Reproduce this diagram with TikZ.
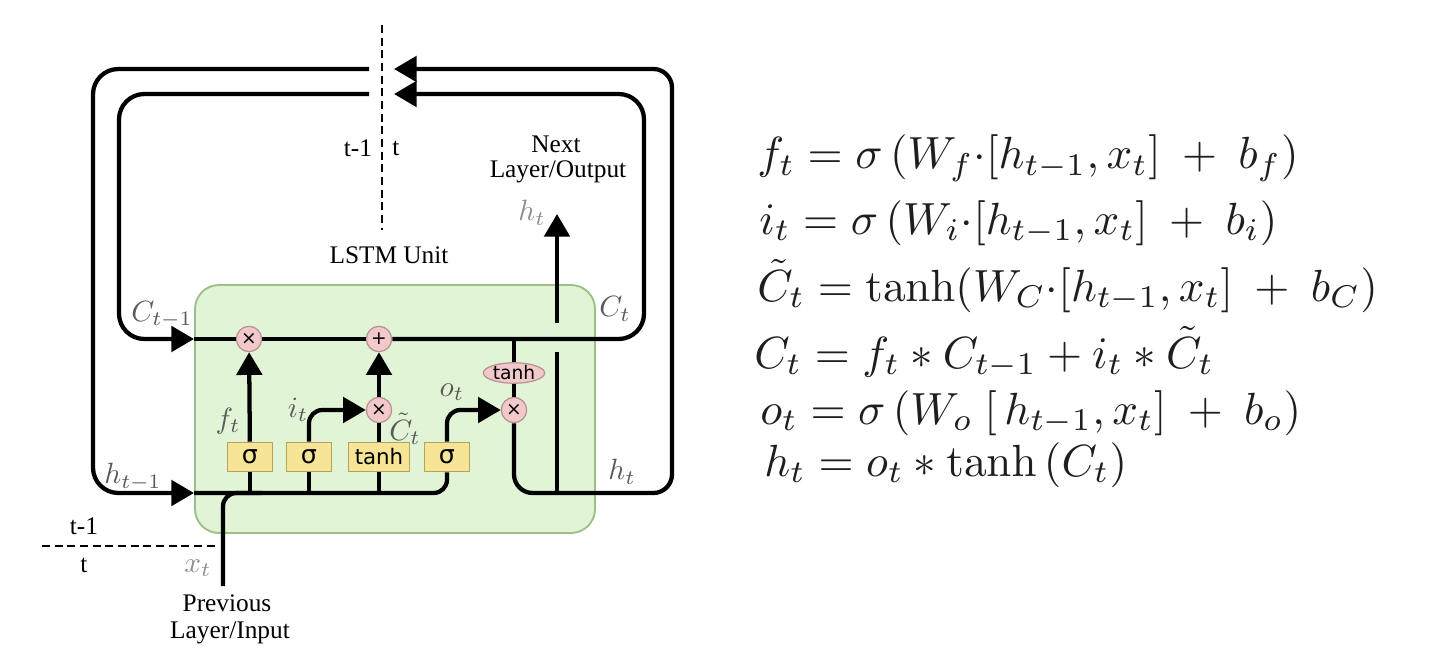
\documentclass[tikz,border=0pt]{standalone}
\usepackage[no-math]{fontspec}
\usepackage{graphicx}
\setmainfont{Liberation Serif}
\newfontfamily\gatefont{DejaVu Sans}
\usetikzlibrary{arrows.meta,shapes.geometric}

\definecolor{cellfill}{HTML}{E2F4D6}
\definecolor{celldraw}{HTML}{9DBE86}
\definecolor{opfill}{HTML}{F2C9CB}
\definecolor{opdraw}{HTML}{B88F92}
\definecolor{gatefill}{HTML}{F6E597}
\definecolor{gatedraw}{HTML}{B9A158}
\definecolor{labelgray}{HTML}{595959}
\definecolor{lightlabel}{HTML}{8C8C8C}
\definecolor{eqink}{HTML}{1E1E1E}

% math set at 10pt and enlarged, so every size stays in proportion
\newcommand{\biglbl}[1]{\scalebox{2.2}{$#1$}}
\newcommand{\bigeq}[1]{\scalebox{3.38}{$#1$}}

\tikzset{
  wire/.style={line width=3.2pt},
  flow/.style={wire,-{Triangle[length=17pt,width=19pt]}},
  timeline/.style={line width=2.2pt,dash pattern=on 6pt off 3.5pt},
  cellbox/.style={draw=celldraw,fill=cellfill,line width=1.4pt,rounded corners=18pt,
    minimum width=300pt,minimum height=186pt},
  op/.style={circle,draw=opdraw,fill=opfill,line width=0.9pt,minimum size=19pt,inner sep=0pt,
    font=\gatefont\fontsize{14}{14}\selectfont},
  tanhop/.style={ellipse,draw=opdraw,fill=opfill,line width=0.9pt,minimum width=46pt,
    minimum height=15pt,inner sep=0pt,font=\gatefont\fontsize{14}{14}\selectfont},
  gate/.style={rectangle,draw=gatedraw,fill=gatefill,line width=0.9pt,minimum width=34pt,
    minimum height=22pt,inner sep=0pt,font=\gatefont\fontsize{19}{19}\selectfont},
  txt/.style={inner sep=0pt,font=\fontsize{19}{21}\selectfont},
  mlbl/.style={inner sep=0pt,text=labelgray},
  eq/.style={inner sep=0pt,anchor=base west,text=eqink},
}

\begin{document}
\begin{tikzpicture}[x=0.75pt,y=-0.75pt]
\useasboundingbox (0,0) rectangle (1448,652);

% LSTM cell body
\node[cellbox] (cell) at (395,409) {};

% operators on the cell state and hidden paths
\node[op] (fx) at (249,339) {×};
\node[op] (ip) at (379,339) {+};
\node[op] (ix) at (379,410) {×};
\node[op] (ox) at (514,410) {×};
\node[tanhop] (th) at (514,373) {tanh};

% gate layers
\node[gate] (gf) at (250,457) {σ};
\node[gate] (gi) at (309,457) {σ};
\node[gate,minimum width=46pt,font=\gatefont\fontsize{16}{16}\selectfont] (gc) at (379,457) {tanh};
\node[gate] (go) at (447,457) {σ};

% fixed points of the recurrent loops
\coordinate (cin)  at (194,339);
\coordinate (hin)  at (194,493);
\coordinate (cLft) at (369,94);
\coordinate (hLft) at (369,69);
\coordinate (cRgt) at (394,94);
\coordinate (hRgt) at (394,69);
\coordinate (hbot) at (557,493);
\coordinate (hgapB) at (557,352);
\coordinate (hgapT) at (557,323);
\coordinate (hup)  at (557,214);
\coordinate (xin)  at (223,586);
\coordinate (dTop) at (382,25);
\coordinate (dBot) at (382,230);
\coordinate (tL)   at (42,546);
\coordinate (tR)   at (217,546);

% cell state line
\draw[wire] (cin) -- (fx);
\draw[wire] (fx) -- (ip);
\draw[flow,rounded corners=19pt] (ip) -- (644,339) -- (644,94) -- (cRgt);
\draw[flow,rounded corners=19pt] (cLft) -- (119,94) -- (119,339) -- (cin);

% hidden state loop
\draw[flow,rounded corners=19pt] (hLft) -- (93,69) -- (93,493) -- (hin);
\draw[flow,rounded corners=14pt] (ox) -- (514,493) -- (672,493) -- (672,69) -- (hRgt);
\draw[wire] (hbot) -- (hgapB);
\draw[flow] (hgapT) -- (hup);

% input bus feeding the gates
\draw[wire,rounded corners=10pt] (hin) -- (447,493) -- (go);
\draw[wire,rounded corners=10pt] (xin) -- (223,493) -- (262,493);
\draw[wire] (gf |- hin) -- (gf);
\draw[wire] (gi |- hin) -- (gi);
\draw[wire] (gc |- hin) -- (gc);

% gate outputs
\draw[flow] (gf) -- (fx);
\draw[flow,rounded corners=10pt] (gi) |- (ix);
\draw[wire] (gc) -- (ix);
\draw[flow] (ix) -- (ip);
\draw[flow,rounded corners=10pt] (go) |- (ox);
\draw[wire] (th |- fx) -- (th);
\draw[wire] (th) -- (ox);

% time step separators
\draw[timeline] (dTop) -- (dBot);
\draw[timeline] (tL) -- (tR);

% plain text labels
\node[txt] (tprevA) at (358,148) {t-1};
\node[txt] (tcurA)  at (396,148) {t};
\node[txt] (nxt1)   at (556,144) {Next};
\node[txt] (nxt2)   at (558,172) {Layer/Output};
\node[txt] (unit)   at (389,255) {LSTM Unit};
\node[txt] (tprevB) at (84,526) {t-1};
\node[txt] (tcurB)  at (84,565) {t};
\node[txt] (prv1)   at (227,603) {Previous};
\node[txt] (prv2)   at (230,633) {Layer/Input};

% signal labels
\node[mlbl] (lC0) at (162,315) {\biglbl{C_{t-1}}};
\node[mlbl] (lh0) at (133,477) {\biglbl{h_{t-1}}};
\node[mlbl] (lC1) at (615,309) {\biglbl{C_t}};
\node[mlbl] (lh1) at (622,472) {\biglbl{h_t}};
\node[mlbl] (lf)  at (228,421) {\biglbl{f_t}};
\node[mlbl] (li)  at (298,410) {\biglbl{i_t}};
\node[mlbl] (lCt) at (405,429) {\biglbl{\tilde{C}_t}};
\node[mlbl] (lo)  at (452,392) {\biglbl{o_t}};
\node[mlbl,text=lightlabel] (lhup) at (532,213) {\biglbl{h_t}};
\node[mlbl,text=lightlabel] (lx)  at (198,568) {\biglbl{x_t}};

% update equations
\node[eq] (e1) at (757,169) {\bigeq{f_t = \sigma\,(W_f{\cdot}[h_{t-1},x_t]\ +\ b_f)}};
\node[eq] (e2) at (759,234) {\bigeq{i_t = \sigma\,(W_i{\cdot}[h_{t-1},x_t]\ +\ b_i)}};
\node[eq] (e3) at (757,301) {\bigeq{\tilde{C}_t = \tanh(W_C{\cdot}[h_{t-1},x_t]\ +\ b_C)}};
\node[eq] (e4) at (754,368) {\bigeq{C_t = f_t * C_{t-1} + i_t * \tilde{C}_t}};
\node[eq] (e5) at (760,424) {\bigeq{o_t = \sigma\,(W_o\ [\,h_{t-1},x_t]\ +\ b_o)}};
\node[eq] (e6) at (764,476) {\bigeq{h_t = o_t * \tanh\,(C_t)}};
\end{tikzpicture}
\end{document}
